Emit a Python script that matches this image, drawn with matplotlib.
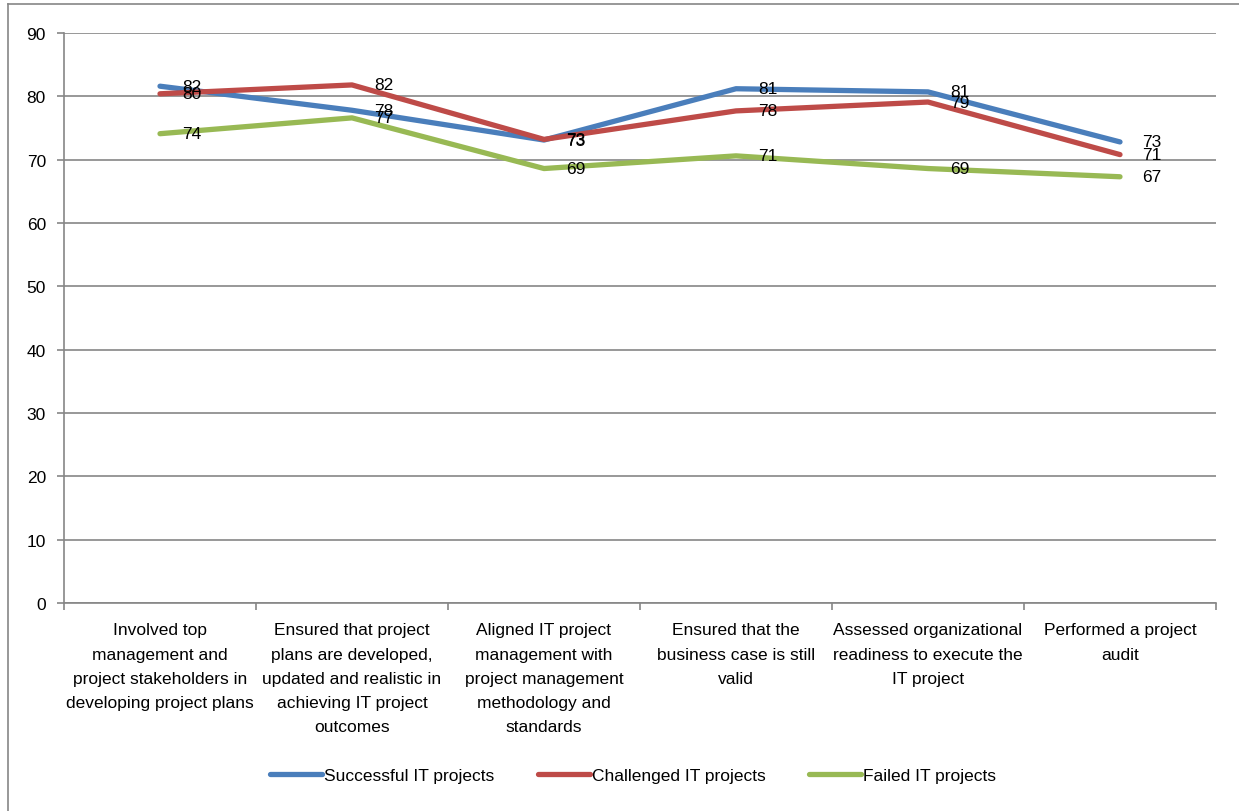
import matplotlib
matplotlib.use("Agg")
import matplotlib.pyplot as plt
from matplotlib.lines import Line2D
from matplotlib.font_manager import fontManager

available = {f.name for f in fontManager.ttflist}
FONT = [f for f in ["Liberation Sans Narrow", "Liberation Sans", "DejaVu Sans"] if f in available]
plt.rcParams["font.family"] = FONT

categories = [
    "Involved top\nmanagement and\nproject stakeholders in\ndeveloping project plans",
    "Ensured that project\nplans are developed,\nupdated and realistic in\nachieving IT project\noutcomes",
    "Aligned IT project\nmanagement with\nproject management\nmethodology and\nstandards",
    "Ensured that the\nbusiness case is still\nvalid",
    "Assessed organizational\nreadiness to execute the\nIT project",
    "Performed a project\naudit",
]
successful = [81.6, 77.8, 73.1, 81.2, 80.7, 72.8]
challenged = [80.4, 81.8, 73.2, 77.7, 79.1, 70.8]
failed = [74.1, 76.6, 68.6, 70.6, 68.6, 67.3]
series_names = ["Successful IT projects", "Challenged IT projects", "Failed IT projects"]
y_ticks = [0, 10, 20, 30, 40, 50, 60, 70, 80, 90]

colors = ["#4A7EBB", "#BE4B48", "#98B954"]
grid_color = "#868686"

W, H = 1239, 812
fig = plt.figure(figsize=(W / 100, H / 100), dpi=100)
ax = fig.add_axes([64 / W, 1 - 604 / H, (1216 - 64) / W, (604 - 34) / H])

# outer chart frame (left and top edges visible)
fig.add_artist(Line2D([8 / W, 8 / W], [0, 1 - 5 / H], color=grid_color, lw=1.2, transform=fig.transFigure))
fig.add_artist(Line2D([8 / W, 1], [1 - 5 / H, 1 - 5 / H], color=grid_color, lw=1.2, transform=fig.transFigure))

x = [i + 0.5 for i in range(len(categories))]
for vals, col, name in zip([successful, challenged, failed], colors, series_names):
    ax.plot(x, vals, color=col, lw=3.8, solid_capstyle="round", solid_joinstyle="round", label=name, zorder=3)

for vals in [successful, challenged, failed]:
    for xi, v in zip(x, vals):
        ax.annotate(f"{round(v)}", (xi, v), xytext=(16, 0), textcoords="offset points",
                    ha="left", va="center", fontsize=12.5, color="black", zorder=4)

ax.set_xlim(0, len(categories))
ax.set_ylim(0, 90)
ax.set_yticks(y_ticks)
ax.yaxis.grid(True, color=grid_color, lw=1.2)
ax.set_axisbelow(True)
ax.tick_params(axis="y", length=5, width=1.2, color=grid_color, labelsize=12.5, pad=8)
ax.set_xticks(range(len(categories) + 1))
ax.set_xticklabels([])
ax.set_xticks(x, minor=True)
ax.set_xticklabels(categories, minor=True, fontsize=12.5, linespacing=1.76, va="top")
ax.tick_params(axis="x", which="major", length=5, width=1.2, color=grid_color, direction="out")
ax.tick_params(axis="x", which="minor", length=0, pad=14)
for s in ["top", "right"]:
    ax.spines[s].set_visible(False)
for s in ["left", "bottom"]:
    ax.spines[s].set_color(grid_color)
    ax.spines[s].set_linewidth(1.2)

handles = [Line2D([0], [0], color=c, lw=3.8, solid_capstyle="round") for c in colors]
fig.legend(handles, series_names, loc="center", bbox_to_anchor=(633 / W, 1 - 776 / H),
           ncol=3, frameon=False, fontsize=12.5, handlelength=3.0, handletextpad=0.1,
           columnspacing=2.5)

fig.savefig("out.png", dpi=100)
